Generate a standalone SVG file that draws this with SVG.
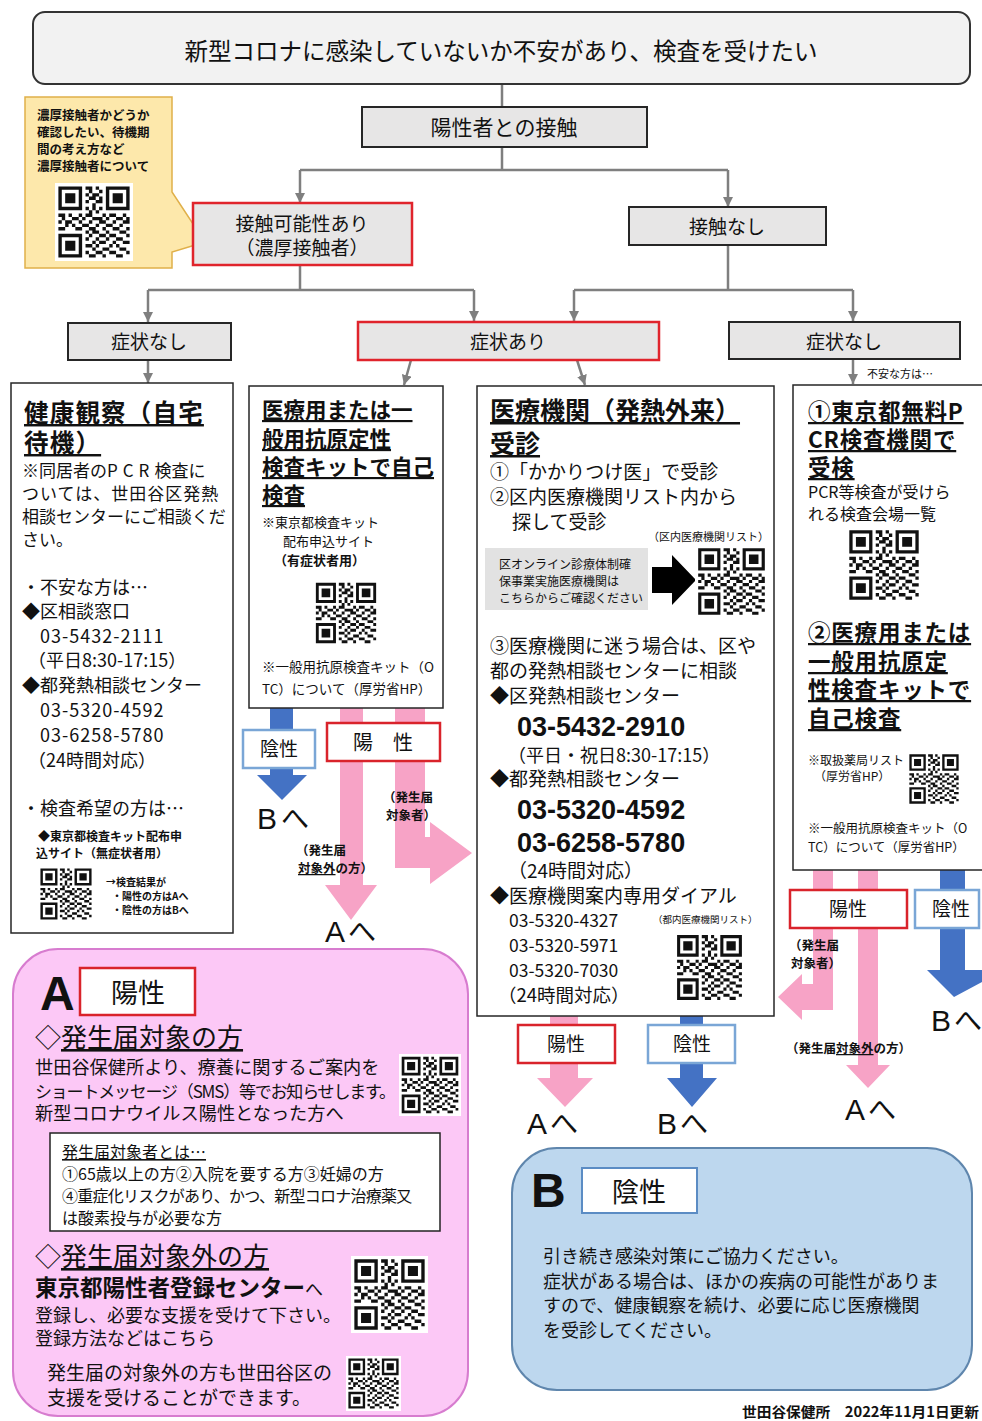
<svg xmlns="http://www.w3.org/2000/svg" width="982" height="1421" viewBox="0 0 982 1421">
<style>
text{font-family:"Noto Sans CJK JP","Noto Sans CJK SC",sans-serif;fill:#111}
.b{font-weight:bold}
.n{font-weight:normal}
.u{text-decoration:underline}
.m{text-anchor:middle}
.lat{font-family:"Liberation Sans",Arial,sans-serif}
.hdr{fill:#e7e6e6;stroke:#262626;stroke-width:2}
.red{stroke:#e0242c;stroke-width:2.5}
.box{fill:#fff;stroke:#262626;stroke-width:1.5}
.conn{stroke:#7f7f7f;stroke-width:2.5;fill:none}
.pink{fill:#f7a3c6}
.blue{fill:#4472c4}
.lblr{fill:#fff;stroke:#d9232b;stroke-width:2.5}
.lblb{fill:#fff;stroke:#7aa6d6;stroke-width:2.5}
</style>
<defs>
<marker id="ah" viewBox="0 0 10 10" refX="10" refY="5" markerWidth="4" markerHeight="4" orient="auto"><path d="M0 0L10 5L0 10z" fill="#7f7f7f"/></marker>
<symbol id="qr" viewBox="-1 -1 23 23">
<rect x="-1" y="-1" width="23" height="23" fill="#fff"/>
<path fill-rule="evenodd" fill="#111" d="M0 0h7v7h-7z M1 1v5h5v-5z M2 2h3v3h-3z M14 0h7v7h-7z M15 1v5h5v-5z M16 2h3v3h-3z M0 14h7v7h-7z M1 15v5h5v-5z M2 16h3v3h-3z"/>
<path fill="#111" d="M8 0h2v1h-2zM11 0h1v1h-1zM9 1h1v1h-1zM12 1h1v1h-1zM8 2h1v1h-1zM10 2h2v1h-2zM9 3h2v1h-2zM12 3h1v1h-1zM8 4h1v1h-1zM11 4h2v1h-2zM10 5h1v1h-1zM8 6h1v1h-1zM10 6h1v1h-1zM12 6h1v1h-1zM9 7h1v1h-1zM11 7h1v1h-1zM0 8h2v1h-2zM3 8h1v1h-1zM6 8h1v1h-1zM8 8h2v1h-2zM13 8h1v1h-1zM15 8h2v1h-2zM19 8h1v1h-1zM1 9h1v1h-1zM4 9h2v1h-2zM7 9h1v1h-1zM10 9h3v1h-3zM14 9h1v1h-1zM17 9h2v1h-2zM20 9h1v1h-1zM0 10h1v1h-1zM2 10h2v1h-2zM6 10h1v1h-1zM9 10h1v1h-1zM12 10h2v1h-2zM16 10h1v1h-1zM19 10h2v1h-2zM2 11h1v1h-1zM4 11h1v1h-1zM7 11h2v1h-2zM11 11h1v1h-1zM14 11h2v1h-2zM18 11h1v1h-1zM0 12h2v1h-2zM5 12h2v1h-2zM9 12h2v1h-2zM13 12h1v1h-1zM16 12h2v1h-2zM20 12h1v1h-1zM8 13h1v1h-1zM10 13h2v1h-2zM14 13h1v1h-1zM18 13h2v1h-2zM9 14h1v1h-1zM12 14h2v1h-2zM15 14h2v1h-2zM20 14h1v1h-1zM8 15h1v1h-1zM11 15h1v1h-1zM14 15h1v1h-1zM17 15h2v1h-2zM10 16h1v1h-1zM12 16h2v1h-2zM16 16h1v1h-1zM19 16h2v1h-2zM8 17h2v1h-2zM11 17h1v1h-1zM15 17h1v1h-1zM17 17h1v1h-1zM10 18h1v1h-1zM13 18h2v1h-2zM18 18h2v1h-2zM8 19h1v1h-1zM11 19h2v1h-2zM15 19h2v1h-2zM20 19h1v1h-1zM9 20h2v1h-2zM13 20h1v1h-1zM17 20h2v1h-2z"/>
</symbol>
</defs>
<rect width="982" height="1421" fill="#fff"/>

<g id="connectors">
<path class="conn" d="M502 84V107"/>
<path class="conn" d="M502 147V170M300 170H728"/>
<path class="conn" d="M300 170V203" marker-end="url(#ah)"/>
<path class="conn" d="M728 170V207" marker-end="url(#ah)"/>
<path class="conn" d="M300 265V290M148 290H474"/>
<path class="conn" d="M148 290V322" marker-end="url(#ah)"/>
<path class="conn" d="M474 290V321" marker-end="url(#ah)"/>
<path class="conn" d="M728 245V290M574 290H853"/>
<path class="conn" d="M574 290V321" marker-end="url(#ah)"/>
<path class="conn" d="M853 290V321" marker-end="url(#ah)"/>
<path class="conn" d="M148 360V383" marker-end="url(#ah)"/>
<path class="conn" d="M411 360L404 385" marker-end="url(#ah)"/>
<path class="conn" d="M577 360L585 385" marker-end="url(#ah)"/>
<path class="conn" d="M853 360V384" marker-end="url(#ah)"/>
<polygon class="blue" points="270,708 293,708 293,775 307,775 282,800 257,775 270,775"/>
<polygon class="pink" points="340,708 363,708 363,885 377,885 351,920 325,885 340,885"/>
<polygon class="pink" points="395,708 425,708 425,837 430,837 430,822 472,853 430,884 430,868 395,868"/>
<polygon class="pink" points="550,1016 578,1016 578,1078 593,1078 565,1107 537,1078 550,1078"/>
<polygon class="blue" points="680,1016 703,1016 703,1078 717,1078 692,1107 667,1078 680,1078"/>
<polygon class="pink" points="813,870 833,870 833,1010 802,1010 802,1020 778,997 802,974 802,984 813,984"/>
<polygon class="pink" points="858,870 878,870 878,1065 890,1065 868,1088 846,1065 858,1065"/>
<polygon class="blue" points="940,870 965,870 965,970 982,970 982,982 954,997 927,970 940,970"/>
</g>

<g id="title">
<rect x="33" y="12" width="937" height="72" rx="12" fill="#f2f2f2" stroke="#333" stroke-width="2"/>
<text x="501" y="60" class="m" font-size="24" textLength="633" lengthAdjust="spacingAndGlyphs">新型コロナに感染していないか不安があり、検査を受けたい</text>
</g>

<g id="contact">
<rect x="362" y="107" width="285" height="40" class="hdr"/>
<text x="504" y="135" class="m" font-size="21">陽性者との接触</text>
</g>

<g id="callout">
<path d="M25 97H172V192L205 242L172 252V268H25Z" fill="#fde8ab" stroke="#e0b04a" stroke-width="1.5"/>
<text font-size="12.5" class="b"><tspan x="37" y="120">濃厚接触者かどうか</tspan><tspan x="37" y="137">確認したい、待機期</tspan><tspan x="37" y="154">間の考え方など</tspan><tspan x="37" y="171">濃厚接触者について</tspan></text>
<use href="#qr" x="55" y="183" width="78" height="78"/>
</g>

<g id="close-contact">
<rect x="193" y="203" width="219" height="62" class="hdr red"/>
<text class="m" font-size="19"><tspan x="302" y="231">接触可能性あり</tspan><tspan x="302" y="255">（濃厚接触者）</tspan></text>
</g>

<g id="no-contact">
<rect x="629" y="207" width="197" height="38" class="hdr"/>
<text x="727" y="234" class="m" font-size="19">接触なし</text>
</g>

<g id="nosym-left">
<rect x="68" y="323" width="163" height="37" class="hdr"/>
<text x="149" y="349" class="m" font-size="19">症状なし</text>
</g>
<g id="sym">
<rect x="358" y="322" width="301" height="38" class="hdr red"/>
<text x="508" y="349" class="m" font-size="19">症状あり</text>
</g>
<g id="nosym-right">
<rect x="729" y="322" width="231" height="37" class="hdr"/>
<text x="844" y="349" class="m" font-size="19">症状なし</text>
<text x="867" y="378" font-size="11">不安な方は…</text>
</g>

<g id="home-observation">
<rect x="11" y="383" width="222" height="550" class="box"/>
<text font-size="24.5" class="b u" letter-spacing="1.2"><tspan x="24" y="422">健康観察（自宅</tspan><tspan x="24" y="452">待機）</tspan></text>
<text font-size="17"><tspan x="22" y="477">※同居者の<tspan letter-spacing="5">PCR</tspan>検査に</tspan><tspan x="22" y="500" letter-spacing="1">ついては、世田谷区発熱</tspan><tspan x="22" y="523">相談センターにご相談くだ</tspan><tspan x="22" y="546">さい。</tspan></text>
<text font-size="18"><tspan x="22" y="594">・不安な方は…</tspan><tspan x="22" y="618">◆区相談窓口</tspan><tspan x="40" y="643" letter-spacing="1">03-5432-2111</tspan><tspan x="28" y="667">（平日8:30-17:15）</tspan><tspan x="22" y="692">◆都発熱相談センター</tspan><tspan x="40" y="717" letter-spacing="1">03-5320-4592</tspan><tspan x="40" y="742" letter-spacing="1">03-6258-5780</tspan><tspan x="28" y="767">（24時間対応）</tspan><tspan x="22" y="815">・検査希望の方は…</tspan></text>
<text font-size="12" class="b"><tspan x="38" y="841">◆東京都検査キット配布申</tspan><tspan x="36" y="858">込サイト（無症状者用）</tspan></text>
<use href="#qr" x="38" y="866" width="56" height="56"/>
<text font-size="10" class="b"><tspan x="106" y="886">→検査結果が</tspan><tspan x="112" y="900">・陽性の方はAへ</tspan><tspan x="112" y="914">・陰性の方はBへ</tspan></text>
</g>

<g id="self-test">
<rect x="249" y="386" width="194" height="322" class="box"/>
<text font-size="21.5" class="b u"><tspan x="262" y="418">医療用または一</tspan><tspan x="262" y="447">般用抗原定性</tspan><tspan x="262" y="475">検査キットで自己</tspan><tspan x="262" y="503">検査</tspan></text>
<text font-size="13"><tspan x="262" y="527">※東京都検査キット</tspan><tspan x="283" y="546">配布申込サイト</tspan><tspan x="274" y="565" class="b">（有症状者用）</tspan></text>
<use href="#qr" x="313" y="580" width="66" height="66"/>
<text font-size="13.5"><tspan x="262" y="672">※一般用抗原検査キット（O</tspan><tspan x="262" y="694">TC）について（厚労省HP）</tspan></text>
</g>

<g id="medical">
<rect x="477" y="386" width="297" height="630" class="box"/>
<text font-size="25" class="b u"><tspan x="490" y="420">医療機関（発熱外来）</tspan><tspan x="490" y="453">受診</tspan></text>
<text font-size="19"><tspan x="490" y="479">①「かかりつけ医」で受診</tspan><tspan x="490" y="504">②区内医療機関リスト内から</tspan><tspan x="512" y="529">探して受診</tspan></text>
<text x="648" y="541" font-size="11">（区内医療機関リスト）</text>
<rect x="485" y="548" width="163" height="62" fill="#e2e2e2"/>
<text font-size="12"><tspan x="499" y="569">区オンライン診療体制確</tspan><tspan x="499" y="586">保事業実施医療機関は</tspan><tspan x="499" y="603">こちらからご確認ください</tspan></text>
<polygon points="652,567 672,567 672,555 696,580 672,605 672,593 652,593" fill="#000"/>
<use href="#qr" x="695" y="545" width="73" height="73"/>
<text font-size="19"><tspan x="490" y="653">③医療機関に迷う場合は、区や</tspan><tspan x="490" y="678">都の発熱相談センターに相談</tspan><tspan x="490" y="703">◆区発熱相談センター</tspan><tspan x="517" y="736" font-size="27" class="b lat">03-5432-2910</tspan><tspan x="508" y="762" font-size="18">（平日・祝日8:30-17:15）</tspan><tspan x="490" y="786">◆都発熱相談センター</tspan><tspan x="517" y="819" font-size="27" class="b lat">03-5320-4592</tspan><tspan x="517" y="852" font-size="27" class="b lat">03-6258-5780</tspan><tspan x="508" y="878">（24時間対応）</tspan><tspan x="490" y="903">◆医療機関案内専用ダイアル</tspan><tspan x="509" y="927" font-size="17.5">03-5320-4327</tspan><tspan x="509" y="952" font-size="17.5">03-5320-5971</tspan><tspan x="509" y="977" font-size="17.5">03-5320-7030</tspan><tspan x="498" y="1002" font-size="18.5">（24時間対応）</tspan></text>
<text x="653" y="923" font-size="9.5">（都内医療機関リスト）</text>
<use href="#qr" x="674" y="932" width="71" height="71"/>
</g>

<g id="pcr">
<rect x="793" y="385" width="200" height="485" class="box"/>
<text font-size="22.5" class="b u" letter-spacing="0.8"><tspan x="808" y="420">①東京都無料P</tspan><tspan x="808" y="448">CR検査機関で</tspan><tspan x="808" y="476">受検</tspan></text>
<text font-size="16"><tspan x="808" y="498">PCR等検査が受けら</tspan><tspan x="808" y="520">れる検査会場一覧</tspan></text>
<use href="#qr" x="846" y="527" width="76" height="76"/>
<text font-size="22.5" class="b u" letter-spacing="0.8"><tspan x="808" y="641">②医療用または</tspan><tspan x="808" y="670">一般用抗原定</tspan><tspan x="808" y="698">性検査キットで</tspan><tspan x="808" y="727">自己検査</tspan></text>
<text font-size="12"><tspan x="808" y="765">※取扱薬局リスト</tspan><tspan x="814" y="781">（厚労省HP）</tspan></text>
<use href="#qr" x="907" y="752" width="54" height="54"/>
<text font-size="12.5"><tspan x="808" y="833">※一般用抗原検査キット（O</tspan><tspan x="808" y="852">TC）について（厚労省HP）</tspan></text>
</g>

<g id="labels-mid">
<rect x="243" y="730" width="72" height="38" class="lblb"/>
<text x="279" y="756" class="m" font-size="19">陰性</text>
<text x="257" y="829" font-size="30" class="lat">B<tspan dx="4" font-size="28" font-family="Noto Sans CJK JP">へ</tspan></text>
<rect x="327" y="723" width="113" height="38" class="lblr"/>
<text x="383" y="750" class="m" font-size="20">陽　性</text>
<text font-size="12.5" class="b"><tspan x="383" y="802">（発生届</tspan><tspan x="386" y="820">対象者）</tspan></text>
<text font-size="12.5" class="b"><tspan x="296" y="855">（発生届</tspan><tspan x="298" y="873"><tspan class="u">対象外</tspan>の方）</tspan></text>
<text x="325" y="942" font-size="30" class="lat">A<tspan dx="3" font-size="28" font-family="Noto Sans CJK JP">へ</tspan></text>
</g>

<g id="labels-center">
<rect x="518" y="1025" width="97" height="38" class="lblr"/>
<text x="566" y="1051" class="m" font-size="19">陽性</text>
<rect x="648" y="1025" width="87" height="38" class="lblb"/>
<text x="692" y="1051" class="m" font-size="19">陰性</text>
<text x="527" y="1134" font-size="30" class="lat">A<tspan dx="3" font-size="28" font-family="Noto Sans CJK JP">へ</tspan></text>
<text x="657" y="1134" font-size="30" class="lat">B<tspan dx="3" font-size="28" font-family="Noto Sans CJK JP">へ</tspan></text>
</g>

<g id="labels-right">
<rect x="790" y="890" width="117" height="38" class="lblr"/>
<text x="848" y="916" class="m" font-size="19">陽性</text>
<rect x="915" y="890" width="64" height="38" class="lblb"/>
<text x="951" y="916" class="m" font-size="19">陰性</text>
<text font-size="12.5" class="b"><tspan x="789" y="950">（発生届</tspan><tspan x="791" y="968">対象者）</tspan></text>
<text x="786" y="1053" font-size="12.5" class="b">（発生届<tspan class="u">対象外</tspan>の方）</text>
<text x="845" y="1120" font-size="30" class="lat">A<tspan dx="3" font-size="28" font-family="Noto Sans CJK JP">へ</tspan></text>
<text x="931" y="1031" font-size="30" class="lat">B<tspan dx="3" font-size="28" font-family="Noto Sans CJK JP">へ</tspan></text>
</g>

<g id="positive-A">
<rect x="13" y="949" width="455" height="467" rx="45" fill="#fcc8f6" stroke="#d77ccf" stroke-width="2"/>
<text x="40" y="1010" font-size="48" class="b lat">A</text>
<rect x="80" y="968" width="115" height="47" class="lblr"/>
<text x="138" y="1003" class="m" font-size="27">陽性</text>
<text x="35" y="1047" font-size="26">◇<tspan class="u">発生届対象の方</tspan></text>
<text font-size="18.2"><tspan x="35" y="1074">世田谷保健所より、療養に関するご案内を</tspan><tspan x="35" y="1098" font-size="17" letter-spacing="-1.2">ショートメッセージ（SMS）等でお知らせします。</tspan><tspan x="35" y="1120">新型コロナウイルス陽性となった方へ</tspan></text>
<use href="#qr" x="399" y="1054" width="62" height="62"/>
<rect x="50" y="1133" width="390" height="98" fill="#fff" stroke="#222" stroke-width="1.5"/>
<text font-size="16"><tspan x="62" y="1158" class="u">発生届対象者とは…</tspan><tspan x="62" y="1180">①65歳以上の方②入院を要する方③妊婦の方</tspan><tspan x="62" y="1202" letter-spacing="-0.75">④重症化リスクがあり、かつ、新型コロナ治療薬又</tspan><tspan x="62" y="1224">は酸素投与が必要な方</tspan></text>
<text x="35" y="1266" font-size="26">◇<tspan class="u">発生届対象外の方</tspan></text>
<text font-size="18"><tspan x="35" y="1296" font-size="22.5" class="b">東京都陽性者登録センター</tspan><tspan>へ</tspan><tspan x="35" y="1322">登録し、必要な支援を受けて下さい。</tspan><tspan x="35" y="1345">登録方法などはこちら</tspan></text>
<use href="#qr" x="351" y="1256" width="77" height="77"/>
<text font-size="19"><tspan x="47" y="1380">発生届の対象外の方も世田谷区の</tspan><tspan x="47" y="1405">支援を受けることができます。</tspan></text>
<use href="#qr" x="346" y="1356" width="55" height="55"/>
</g>

<g id="negative-B">
<rect x="512" y="1148" width="460" height="242" rx="45" fill="#bdd7ee" stroke="#5f86ad" stroke-width="2"/>
<text x="531" y="1207" font-size="48" class="b lat">B</text>
<rect x="582" y="1168" width="115" height="45" fill="#fff" stroke="#5b8cc4" stroke-width="2"/>
<text x="639" y="1202" class="m" font-size="27">陰性</text>
<text font-size="18"><tspan x="543" y="1263">引き続き感染対策にご協力ください。</tspan><tspan x="543" y="1288">症状がある場合は、ほかの疾病の可能性がありま</tspan><tspan x="543" y="1312">すので、健康観察を続け、必要に応じ医療機関</tspan><tspan x="543" y="1337">を受診してください。</tspan></text>
</g>

<g id="footer">
<text x="742" y="1417" font-size="14" class="b" textLength="237" lengthAdjust="spacingAndGlyphs">世田谷保健所　2022年11月1日更新</text>
</g>
</svg>
